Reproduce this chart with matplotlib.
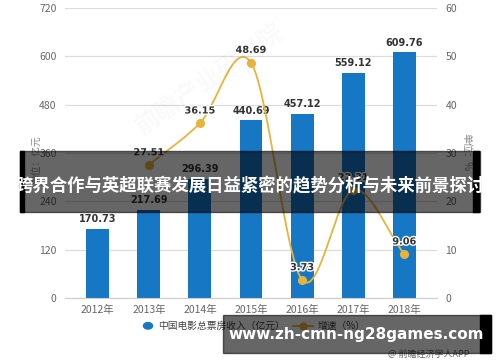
import numpy as np
import matplotlib
matplotlib.use("Agg")
import matplotlib.pyplot as plt
import matplotlib.patheffects as pe
from matplotlib.patches import Rectangle

plt.rcParams['font.family'] = ['Noto Sans CJK SC', 'DejaVu Sans']

years = ['2012年', '2013年', '2014年', '2015年', '2016年', '2017年', '2018年']
box_office = [170.73, 217.69, 296.39, 440.69, 457.12, 559.12, 609.76]
growth = [27.51, 36.15, 48.69, 3.73, 22.31, 9.06]   # 2013-2018
growth_labels = ['27.51', '36.15', '48.69', '3.73', '22.31', '9.06']

BLUE = '#1677c5'
GOLD = '#e6b43c'
GRID = '#dddddd'
TXT = '#666666'


def catmull_rom(xs, ys, n=30):
    # smooth curve through the points (same look as a smoothed line chart)
    xs = np.asarray(xs, float)
    ys = np.asarray(ys, float)
    px = np.concatenate([[2 * xs[0] - xs[1]], xs, [2 * xs[-1] - xs[-2]]])
    py = np.concatenate([[2 * ys[0] - ys[1]], ys, [2 * ys[-1] - ys[-2]]])
    outx, outy = [], []
    t = np.linspace(0, 1, n)
    for i in range(1, len(px) - 2):
        for p, o in ((px, outx), (py, outy)):
            p0, p1, p2, p3 = p[i - 1], p[i], p[i + 1], p[i + 2]
            o.extend(0.5 * (2 * p1 + (-p0 + p2) * t
                            + (2 * p0 - 5 * p1 + 4 * p2 - p3) * t ** 2
                            + (-p0 + 3 * p1 - 3 * p2 + p3) * t ** 3))
    return np.array(outx), np.array(outy)


fig = plt.figure(figsize=(5.0, 3.62), dpi=100)
ax = fig.add_axes([0.13, 0.177, 0.744, 0.801])
ax2 = ax.twinx()

x = np.arange(len(years))
ax.bar(x, box_office, width=0.45, color=BLUE, zorder=2)
for xi, v in zip(x, box_office):
    ax.text(xi, v + 12, f'{v:.2f}', ha='center', va='bottom', fontsize=7,
            color='#333333', fontweight='bold', family='DejaVu Sans')

ax.set_ylim(0, 720)
ax.set_yticks(np.arange(0, 721, 120))
ax.set_xlim(-0.64, 6.64)
ax.set_xticks(x)
ax.set_xticklabels(years)
ax.yaxis.grid(True, color=GRID, linewidth=0.9, zorder=0)
ax.set_axisbelow(True)

ax2.set_ylim(0, 60)
ax2.set_yticks(np.arange(0, 61, 10))

for a in (ax, ax2):
    for s in a.spines.values():
        s.set_visible(False)
    a.tick_params(length=0, labelsize=7.5, labelcolor=TXT)
ax.spines['bottom'].set_visible(True)
ax.spines['bottom'].set_color('#cccccc')
ax.tick_params(axis='x', pad=5)
ax.tick_params(axis='y', pad=6)
ax2.tick_params(axis='y', pad=6)

gx = x[1:]
sx, sy = catmull_rom(gx, growth)
ax2.plot(sx, sy, color=GOLD, linewidth=1.3, zorder=3)
ax2.plot(gx, growth, 'o', color=GOLD, markersize=5.5, zorder=4)
for xi, v, lab in zip(gx, growth, growth_labels):
    t = ax2.text(xi, v + 1.6, lab, ha='center', va='bottom', fontsize=7,
                 color='#333333', fontweight='bold', family='DejaVu Sans', zorder=5)
    t.set_path_effects([pe.withStroke(linewidth=2, foreground='white')])

fig.text(0.072, 0.56, '单位：亿元', rotation=90, ha='center', va='center',
         fontsize=7, color='#888888')
fig.text(0.932, 0.58, '单位：%', rotation=270, ha='center', va='center',
         fontsize=7, color='#888888')

# faint watermark
fig.text(0.42, 0.78, '前瞻产业研究院', rotation=35, ha='center', va='center',
         fontsize=18, color='#000000', alpha=0.025, fontweight='bold')

# legend row
fig.patches.append(plt.Circle((0.296, 0.1), 0.009, transform=fig.transFigure,
                              color=BLUE, figure=fig))
fig.text(0.316, 0.1, '中国电影总票房收入（亿元）', ha='left', va='center',
         fontsize=7, color='#444444')
fig.add_artist(plt.Line2D([0.585, 0.625], [0.1, 0.1], color=GOLD, lw=1.3,
                          transform=fig.transFigure))
fig.add_artist(plt.Line2D([0.605], [0.1], marker='o', color=GOLD, ms=5,
                          transform=fig.transFigure))
fig.text(0.635, 0.1, '增速（%）', ha='left', va='center', fontsize=7, color='#444444')
fig.text(0.94, 0.022, '@ 前瞻经济学人APP', ha='right', va='center',
         fontsize=6.5, color='#666666')

# title banner
H, W = 362.0, 500.0
fig.patches.append(Rectangle((20 / W, 1 - 212 / H), 460 / W, 61 / H,
                             transform=fig.transFigure, color='black',
                             alpha=0.6, zorder=10, figure=fig))
fig.patches.append(Rectangle((20 / W, 1 - 212 / H), 4 / W, 61 / H,
                             transform=fig.transFigure, color='black',
                             zorder=11, figure=fig))
fig.patches.append(Rectangle((473 / W, 1 - 212 / H), 6 / W, 61 / H,
                             transform=fig.transFigure, color='black',
                             zorder=11, figure=fig))
fig.text(0.5, 1 - 185 / H, '跨界合作与英超联赛发展日益紧密的趋势分析与未来前景探讨',
         ha='center', va='center', fontsize=12.5, color='white',
         fontweight='bold', zorder=12)

# site banner
fig.patches.append(Rectangle((223 / W, 1 - 353 / H), 268 / W, 38 / H,
                             transform=fig.transFigure, color='black',
                             alpha=0.6, zorder=10, figure=fig))
fig.patches.append(Rectangle((480 / W, 1 - 353 / H), 11 / W, 38 / H,
                             transform=fig.transFigure, color='black',
                             zorder=11, figure=fig))
fig.text(356 / W, 1 - 334 / H, 'www.zh-cmn-ng28games.com', ha='center',
         va='center', fontsize=11, color='white', fontweight='bold',
         family='DejaVu Sans', zorder=12)

fig.savefig('out.png', dpi=100)
